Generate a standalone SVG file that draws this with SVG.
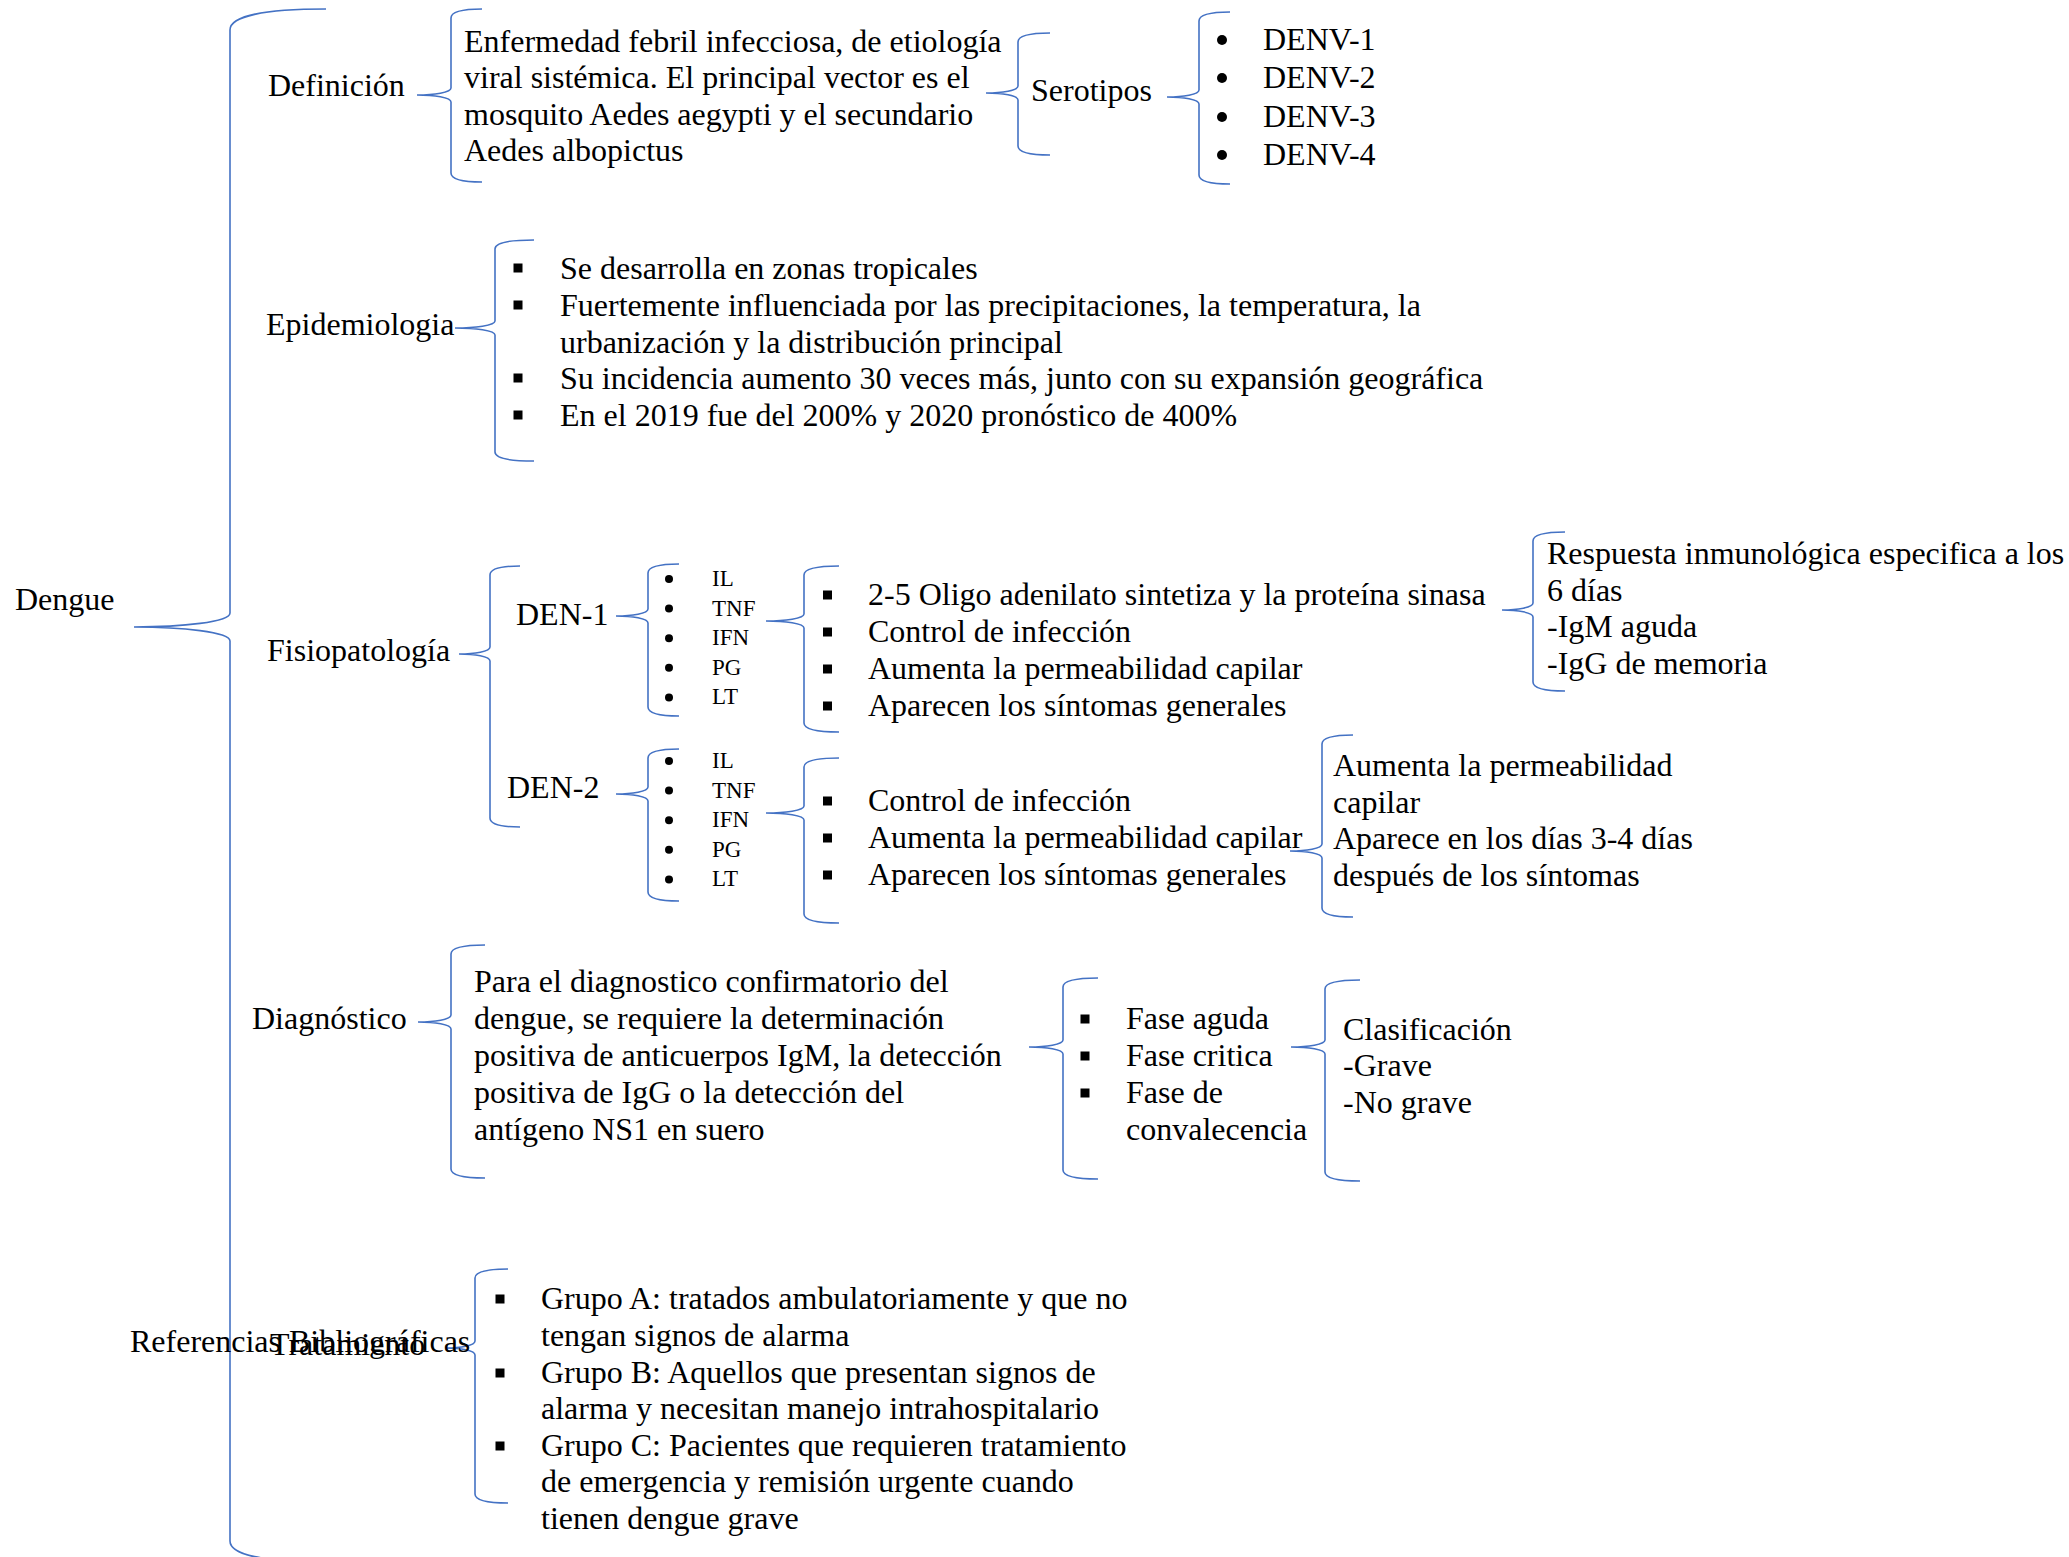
<svg xmlns="http://www.w3.org/2000/svg" width="2069" height="1557" viewBox="0 0 2069 1557">
<style>
.t{font-family:"Liberation Serif","Times New Roman",serif;font-size:32px;fill:#000}
.s{font-size:23px}
.b{fill:none;stroke:#4472C4;stroke-width:1.6}
.d{fill:#000}
</style>
<rect width="2069" height="1557" fill="#fff"/>
<g id="connectors">
<path class="b" d="M326,9 C263.6,9 230,16.4 230,30 L230,613 C230,622.1 182,627 134,627 C182,627 230,631.9 230,641 L230,1541 C230,1554.6 263.6,1562 326,1562"/>
<path class="b" d="M482,9 C461.9,9 451,12.2 451,18 L451,88 C451,92.5 434,95 417,95 C434,95 451,97.5 451,102 L451,173 C451,178.8 461.9,182 482,182"/>
<path class="b" d="M1050,33 C1029.2,33 1018,36.2 1018,42 L1018,86 C1018,90.5 1002,93 986,93 C1002,93 1018,95.5 1018,100 L1018,146 C1018,151.8 1029.2,155 1050,155"/>
<path class="b" d="M1230,12 C1209.9,12 1199,15.2 1199,21 L1199,90 C1199,94.5 1183,97 1167,97 C1183,97 1199,99.5 1199,104 L1199,175 C1199,180.8 1209.9,184 1230,184"/>
<path class="b" d="M534,240 C508.7,240 495,243.2 495,249 L495,321 C495,325.5 475,328 455,328 C475,328 495,330.5 495,335 L495,452 C495,457.8 508.7,461 534,461"/>
<path class="b" d="M520,566 C500.5,566 490,569.2 490,575 L490,647 C490,651.5 474.5,654 459,654 C474.5,654 490,656.5 490,661 L490,818 C490,823.8 500.5,827 520,827"/>
<path class="b" d="M679,564 C658.9,564 648,567.2 648,573 L648,609 C648,613.5 632,616 616,616 C632,616 648,618.5 648,623 L648,707 C648,712.8 658.9,716 679,716"/>
<path class="b" d="M839,566 C816.3,566 804,569.2 804,575 L804,614 C804,618.5 785,621 766,621 C785,621 804,623.5 804,628 L804,723 C804,728.8 816.3,732 839,732"/>
<path class="b" d="M1565,532 C1544.2,532 1533,535.2 1533,541 L1533,603 C1533,607.5 1517.5,610 1502,610 C1517.5,610 1533,612.5 1533,617 L1533,682 C1533,687.8 1544.2,691 1565,691"/>
<path class="b" d="M679,749 C658.9,749 648,752.2 648,758 L648,787 C648,791.5 632,794 616,794 C632,794 648,796.5 648,801 L648,892 C648,897.8 658.9,901 679,901"/>
<path class="b" d="M839,758 C816.3,758 804,761.2 804,767 L804,806 C804,810.5 785,813 766,813 C785,813 804,815.5 804,820 L804,914 C804,919.8 816.3,923 839,923"/>
<path class="b" d="M1353,735 C1332.9,735 1322,738.2 1322,744 L1322,844 C1322,848.5 1306,851 1290,851 C1306,851 1322,853.5 1322,858 L1322,908 C1322,913.8 1332.9,917 1353,917"/>
<path class="b" d="M485,945 C462.9,945 451,948.2 451,954 L451,1015 C451,1019.5 434.5,1022 418,1022 C434.5,1022 451,1024.5 451,1029 L451,1169 C451,1174.8 462.9,1178 485,1178"/>
<path class="b" d="M1098,978 C1075.3,978 1063,981.2 1063,987 L1063,1040 C1063,1044.5 1046,1047 1029,1047 C1046,1047 1063,1049.5 1063,1054 L1063,1170 C1063,1175.8 1075.3,1179 1098,1179"/>
<path class="b" d="M1360,980 C1337.3,980 1325,983.2 1325,989 L1325,1040 C1325,1044.5 1308,1047 1291,1047 C1308,1047 1325,1049.5 1325,1054 L1325,1172 C1325,1177.8 1337.3,1181 1360,1181"/>
<path class="b" d="M508,1269 C486.6,1269 475,1272.2 475,1278 L475,1341 C475,1345.5 460.5,1348 446,1348 C460.5,1348 475,1350.5 475,1355 L475,1494 C475,1499.8 486.6,1503 508,1503"/>
</g>
<g id="n-dengue"><text class="t" x="15" y="610">Dengue</text></g>
<g id="n-definicion"><text class="t" x="268" y="96">Definición</text></g>
<g id="n-def-text"><text class="t" x="464" y="51.5">Enfermedad febril infecciosa, de etiología</text><text class="t" x="464" y="88">viral sistémica. El principal vector es el</text><text class="t" x="464" y="124.5">mosquito Aedes aegypti y el secundario</text><text class="t" x="464" y="161">Aedes albopictus</text></g>
<g id="n-serotipos"><text class="t" x="1031" y="101">Serotipos</text></g>
<g id="n-denv">
<circle class="d" cx="1222" cy="40" r="5"/><circle class="d" cx="1222" cy="78" r="5"/><circle class="d" cx="1222" cy="117" r="5"/><circle class="d" cx="1222" cy="155" r="5"/>
<text class="t" x="1263" y="50">DENV-1</text><text class="t" x="1263" y="88">DENV-2</text><text class="t" x="1263" y="127">DENV-3</text><text class="t" x="1263" y="165">DENV-4</text>
</g>
<g id="n-epidemiologia"><text class="t" x="266" y="335">Epidemiologia</text></g>
<g id="n-epi-list">
<rect class="d" x="513.5" y="263.5" width="9" height="9"/><rect class="d" x="513.5" y="300.5" width="9" height="9"/><rect class="d" x="513.5" y="373.5" width="9" height="9"/><rect class="d" x="513.5" y="410.5" width="9" height="9"/>
<text class="t" x="560" y="279">Se desarrolla en zonas tropicales</text>
<text class="t" x="560" y="316">Fuertemente influenciada por las precipitaciones, la temperatura, la</text>
<text class="t" x="560" y="353">urbanización y la distribución principal</text>
<text class="t" x="560" y="389">Su incidencia aumento 30 veces más, junto con su expansión geográfica</text>
<text class="t" x="560" y="426">En el 2019 fue del 200% y 2020 pronóstico de 400%</text>
</g>
<g id="n-fisiopatologia"><text class="t" x="267" y="661">Fisiopatología</text></g>
<g id="n-den1"><text class="t" x="516" y="625">DEN-1</text></g>
<g id="n-den1-list">
<circle class="d" cx="669" cy="579" r="4"/><circle class="d" cx="669" cy="608.6" r="4"/><circle class="d" cx="669" cy="638.2" r="4"/><circle class="d" cx="669" cy="667.8" r="4"/><circle class="d" cx="669" cy="697.4" r="4"/>
<text class="t s" x="712" y="586">IL</text><text class="t s" x="712" y="615.6">TNF</text><text class="t s" x="712" y="645.2">IFN</text><text class="t s" x="712" y="674.8">PG</text><text class="t s" x="712" y="704.4">LT</text>
</g>
<g id="n-den1-items">
<rect class="d" x="823" y="590.5" width="9" height="9"/><rect class="d" x="823" y="627.5" width="9" height="9"/><rect class="d" x="823" y="664.5" width="9" height="9"/><rect class="d" x="823" y="701.5" width="9" height="9"/>
<text class="t" x="868" y="605">2-5 Oligo adenilato sintetiza y la proteína sinasa</text>
<text class="t" x="868" y="642">Control de infección</text>
<text class="t" x="868" y="679">Aumenta la permeabilidad capilar</text>
<text class="t" x="868" y="716">Aparecen los síntomas generales</text>
</g>
<g id="n-respuesta">
<text class="t" x="1547" y="564">Respuesta inmunológica especifica a los</text>
<text class="t" x="1547" y="601">6 días</text>
<text class="t" x="1547" y="637">-IgM aguda</text>
<text class="t" x="1547" y="674">-IgG de memoria</text>
</g>
<g id="n-den2"><text class="t" x="507" y="798">DEN-2</text></g>
<g id="n-den2-list">
<circle class="d" cx="669" cy="761" r="4"/><circle class="d" cx="669" cy="790.6" r="4"/><circle class="d" cx="669" cy="820.2" r="4"/><circle class="d" cx="669" cy="849.8" r="4"/><circle class="d" cx="669" cy="879.4" r="4"/>
<text class="t s" x="712" y="768">IL</text><text class="t s" x="712" y="797.6">TNF</text><text class="t s" x="712" y="827.2">IFN</text><text class="t s" x="712" y="856.8">PG</text><text class="t s" x="712" y="886.4">LT</text>
</g>
<g id="n-den2-items">
<rect class="d" x="823" y="796.5" width="9" height="9"/><rect class="d" x="823" y="833.5" width="9" height="9"/><rect class="d" x="823" y="870.5" width="9" height="9"/>
<text class="t" x="868" y="811">Control de infección</text>
<text class="t" x="868" y="848">Aumenta la permeabilidad capilar</text>
<text class="t" x="868" y="885">Aparecen los síntomas generales</text>
</g>
<g id="n-aumenta">
<text class="t" x="1333" y="776">Aumenta la permeabilidad</text>
<text class="t" x="1333" y="813">capilar</text>
<text class="t" x="1333" y="849">Aparece en los días 3-4 días</text>
<text class="t" x="1333" y="886">después de los síntomas</text>
</g>
<g id="n-diagnostico"><text class="t" x="252" y="1029">Diagnóstico</text></g>
<g id="n-diag-text">
<text class="t" x="474" y="992">Para el diagnostico confirmatorio del</text>
<text class="t" x="474" y="1029">dengue, se requiere la determinación</text>
<text class="t" x="474" y="1066">positiva de anticuerpos IgM, la detección</text>
<text class="t" x="474" y="1103">positiva de IgG o la detección del</text>
<text class="t" x="474" y="1140">antígeno NS1 en suero</text>
</g>
<g id="n-fases">
<rect class="d" x="1080.5" y="1014.5" width="9" height="9"/><rect class="d" x="1080.5" y="1051.5" width="9" height="9"/><rect class="d" x="1080.5" y="1088.5" width="9" height="9"/>
<text class="t" x="1126" y="1029">Fase aguda</text>
<text class="t" x="1126" y="1066">Fase critica</text>
<text class="t" x="1126" y="1103">Fase de</text>
<text class="t" x="1126" y="1140">convalecencia</text>
</g>
<g id="n-clasificacion">
<text class="t" x="1343" y="1040">Clasificación</text>
<text class="t" x="1343" y="1076">-Grave</text>
<text class="t" x="1343" y="1113">-No grave</text>
</g>
<g id="n-referencias"><text class="t" x="130" y="1352">Referencias Bibliográficas</text></g>
<g id="n-tratamiento"><text class="t" x="270" y="1355">Tratamiento</text></g>
<g id="n-trat-list">
<rect class="d" x="495.5" y="1294.5" width="9" height="9"/><rect class="d" x="495.5" y="1368.5" width="9" height="9"/><rect class="d" x="495.5" y="1441.5" width="9" height="9"/>
<text class="t" x="541" y="1309">Grupo A: tratados ambulatoriamente y que no</text>
<text class="t" x="541" y="1346">tengan signos de alarma</text>
<text class="t" x="541" y="1383">Grupo B: Aquellos que presentan signos de</text>
<text class="t" x="541" y="1419">alarma y necesitan manejo intrahospitalario</text>
<text class="t" x="541" y="1456">Grupo C: Pacientes que requieren tratamiento</text>
<text class="t" x="541" y="1492">de emergencia y remisión urgente cuando</text>
<text class="t" x="541" y="1529">tienen dengue grave</text>
</g>
</svg>
